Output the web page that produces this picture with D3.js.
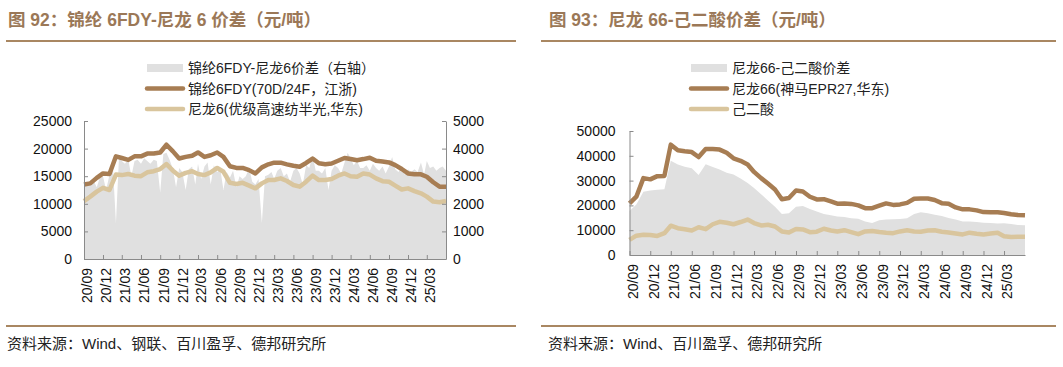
<!DOCTYPE html>
<html><head><meta charset="utf-8">
<script src="https://cdn.jsdelivr.net/npm/d3@7"></script>
<style>body{margin:0;background:#fff}svg{display:block}</style>
</head><body>
<svg id="c" width="1063" height="367"></svg>
<script>
// ---------- data ----------
const tickLabels = ["20/09","20/12","21/03","21/06","21/09","21/12","22/03","22/06","22/09","22/12","23/03","23/06","23/09","23/12","24/03","24/06","24/09","24/12","25/03"];

// monthly, 2020-09 .. 2025-06
const fdy = [13500,13700,14700,15500,15400,18600,18300,17950,18600,18600,19100,19100,19300,20700,19500,18200,18500,18700,19300,18500,18800,19300,18500,16800,16500,16500,16100,15500,16600,17150,17450,17450,17150,16900,16720,17400,18200,17330,17150,17300,17800,18300,18100,17900,18100,18350,17800,17650,17500,17000,16300,15500,15340,15340,14900,13900,13100,13100];
const pa6 = [10500,11300,12200,12900,12500,15300,15200,15400,15100,15000,15700,15900,16300,17200,16000,15100,15600,15900,15400,15200,15700,16500,15800,13800,13600,13800,13300,12800,13700,14310,14310,14610,14130,13410,13100,14000,15100,14300,14310,14500,15100,15500,15000,14900,15500,15300,14600,14100,14000,13300,12600,12800,12300,11900,11300,10400,10270,10500];
// half-monthly spread (right axis)
const spread6 = [2650,2700,2800,2850,2600,2950,3000,2500,3050,3550,1300,3750,3550,3450,3600,3000,3550,3600,3450,3650,3550,3450,3600,3550,2400,3800,3850,3600,3250,2600,3300,3150,2500,3250,3350,2700,3450,2900,3350,3500,2700,3400,3150,3250,2500,3150,2950,3200,2600,3000,2900,3000,3300,2800,2700,2900,1300,3000,3050,3150,2900,3200,3300,3000,3100,2800,3200,3300,3100,2700,3400,3300,3750,3200,3200,3100,3300,2500,3200,3400,3300,3100,3500,3850,3650,3400,3550,3300,3300,3400,3200,3450,3300,3200,3350,3100,3350,3700,3250,3150,3300,3050,3250,3150,3250,3150,3500,3050,3550,3300,3350,3200,3300,3350,3200];

const n66 = [20800,23500,31000,30500,31800,31900,44500,42200,41800,41500,39500,42700,42700,42500,41200,39000,38000,36500,33500,31000,28800,26400,22500,23000,26000,25600,23500,22400,22500,21600,20700,20800,20600,20000,18900,18900,19900,20800,20200,20400,21000,22700,22800,22800,22200,20900,20700,19200,18400,18400,18000,17300,17200,17200,16900,16400,16100,16000];
const adipic = [6100,7800,8200,8100,7700,8800,11800,10800,10400,9900,11200,10400,12400,13400,13000,12400,13300,14300,12900,11900,12200,11500,9500,9100,10500,10300,9200,9400,10600,9900,9500,10000,9200,8400,9500,9700,9300,9000,8800,9500,10000,9500,9400,9900,10000,9400,9100,8700,8300,9000,8600,8300,8700,9000,7600,7300,7400,7400];
const spread66 = [17700,20400,25500,26000,26300,26500,38000,36500,35600,35000,32300,36600,35500,34500,33200,32500,30800,29000,27000,24500,22000,19500,16500,16800,19500,19800,18500,17500,16500,16000,15500,15300,14800,14600,13500,12900,14000,14300,14400,14500,14800,16500,17200,16800,16200,15700,14900,14300,13500,13500,13300,13000,12900,12700,12800,12500,12100,12000];

// ---------- setup ----------
const months = d3.range(58).map(i => new Date(2020, 8 + i, 1));
const halfMonths = d3.range(115).map(i => new Date(2020, 8 + Math.floor(i / 2), i % 2 ? 16 : 1));
const tickDates = tickLabels.map((_, i) => new Date(2020, 8 + 3 * i, 1));

const C_DARK = "#a77d53", C_LIGHT = "#d9c59d", C_GRAY = "#e0e0e0", C_AXIS = "#8a8a8a";
const C_TITLE = "#9b7857", C_RULE = "#a98762";
const FONT = "'Liberation Sans', Arial, 'Noto Sans CJK SC', sans-serif";

const svg = d3.select("#c").style("font-family", FONT);

function header(x0, x1, tx, title, source) {
  svg.append("text").attr("x", tx).attr("y", 26).attr("fill", C_TITLE)
    .attr("font-size", 17.5).attr("font-weight", "bold")
    .attr("font-family", "'Liberation Sans','Noto Sans CJK SC',sans-serif").text(title);
  svg.append("line").attr("x1", x0).attr("x2", x1).attr("y1", 41).attr("y2", 41)
    .attr("stroke", C_RULE).attr("stroke-width", 2);
  svg.append("line").attr("x1", x0).attr("x2", x1).attr("y1", 326).attr("y2", 326)
    .attr("stroke", C_RULE).attr("stroke-width", 2);
  svg.append("text").attr("x", tx - 1).attr("y", 349).attr("fill", "#222")
    .attr("font-size", 15).text(source);
}

function legend(x, items) {
  const ys = [68, 88.5, 109];
  items.forEach((it, i) => {
    const g = svg.append("g").attr("transform", `translate(${x},${ys[i]})`);
    if (it.type === "area") g.append("rect").attr("x", 0).attr("y", -4).attr("width", 36).attr("height", 8).attr("fill", C_GRAY);
    else g.append("line").attr("x1", 0).attr("x2", 36).attr("y1", 0).attr("y2", 0).attr("stroke", it.color).attr("stroke-width", 4.5).attr("stroke-linecap", "round");
    g.append("text").attr("x", 41).attr("dy", "0.36em").attr("font-size", 14).attr("fill", "#222").text(it.label);
  });
}

function xAxis(x, yPos) {
  const ax = d3.axisBottom(x).tickValues(tickDates).tickFormat((d, i) => tickLabels[i]).tickSize(-4).tickSizeOuter(0);
  const g = svg.append("g").attr("transform", `translate(0,${yPos})`).call(ax);
  g.select(".domain").attr("stroke", C_AXIS);
  g.selectAll(".tick line").attr("stroke", C_AXIS);
  g.selectAll(".tick text").attr("font-size", 14).attr("fill", "#111")
    .attr("text-anchor", "end").attr("transform", "translate(2.8,9) rotate(-90)")
    .attr("x", 0).attr("y", 0).attr("dy", "0.36em");
  return g;
}

function yAxis(axisFn, xPos, labelOffset) {
  const g = svg.append("g").attr("transform", `translate(${xPos},0)`).call(axisFn);
  g.select(".domain").attr("stroke", C_AXIS);
  g.selectAll(".tick line").attr("stroke", C_AXIS);
  g.selectAll(".tick text").attr("font-size", 14).attr("fill", "#111").attr("x", labelOffset);
  return g;
}

// ---------- chart 92 ----------
{
  header(6, 516, 8, "图 92：锦纶 6FDY-尼龙 6 价差（元/吨）", "资料来源：Wind、钢联、百川盈孚、德邦研究所");
  const x = d3.scaleTime().domain([months[0], months[57]]).range([84, 446]);
  const yL = d3.scaleLinear().domain([0, 25000]).range([259, 121]);
  const yR = d3.scaleLinear().domain([0, 5000]).range([259, 121]);

  svg.append("path").datum(spread6.map((v, i) => [halfMonths[i], v]))
    .attr("fill", C_GRAY)
    .attr("d", d3.area().x(d => x(d[0])).y0(yR(0)).y1(d => yR(d[1])));

  const line = d3.line().x((d, i) => x(months[i])).y(d => yL(d));
  svg.append("path").datum(pa6).attr("fill", "none").attr("stroke", C_LIGHT).attr("stroke-width", 4.5).attr("stroke-linejoin", "round").attr("d", line);
  svg.append("path").datum(fdy).attr("fill", "none").attr("stroke", C_DARK).attr("stroke-width", 4.5).attr("stroke-linejoin", "round").attr("d", line);

  yAxis(d3.axisLeft(yL).tickValues([0, 5000, 10000, 15000, 20000, 25000]).tickFormat(d3.format("d")).tickSize(-4).tickSizeOuter(0), 84, -12);
  yAxis(d3.axisRight(yR).tickValues([0, 1000, 2000, 3000, 4000, 5000]).tickFormat(d3.format("d")).tickSize(-4).tickSizeOuter(0), 446, 7);
  xAxis(x, 259);

  legend(147, [
    { type: "area", label: "锦纶6FDY-尼龙6价差（右轴）" },
    { type: "line", color: C_DARK, label: "锦纶6FDY(70D/24F，江浙)" },
    { type: "line", color: C_LIGHT, label: "尼龙6(优级高速纺半光,华东)" }
  ]);
}

// ---------- chart 93 ----------
{
  header(541, 1056, 549, "图 93：尼龙 66-己二酸价差（元/吨）", "资料来源：Wind、百川盈孚、德邦研究所");
  const x = d3.scaleTime().domain([months[0], months[57]]).range([629.5, 1025]);
  const y = d3.scaleLinear().domain([0, 50000]).range([255, 131]);

  svg.append("path").datum(spread66).attr("fill", C_GRAY)
    .attr("d", d3.area().x((d, i) => x(months[i])).y0(y(0)).y1(d => y(d)));

  const line = d3.line().x((d, i) => x(months[i])).y(d => y(d));
  svg.append("path").datum(adipic).attr("fill", "none").attr("stroke", C_LIGHT).attr("stroke-width", 4.5).attr("stroke-linejoin", "round").attr("d", line);
  svg.append("path").datum(n66).attr("fill", "none").attr("stroke", C_DARK).attr("stroke-width", 4.5).attr("stroke-linejoin", "round").attr("d", line);

  yAxis(d3.axisLeft(y).tickValues([0, 10000, 20000, 30000, 40000, 50000]).tickFormat(d3.format("d")).tickSize(-4).tickSizeOuter(0), 629.5, -14);
  xAxis(x, 255);

  legend(691, [
    { type: "area", label: "尼龙66-己二酸价差" },
    { type: "line", color: C_DARK, label: "尼龙66(神马EPR27,华东)" },
    { type: "line", color: C_LIGHT, label: "己二酸" }
  ]);
}
</script>
</body></html>
